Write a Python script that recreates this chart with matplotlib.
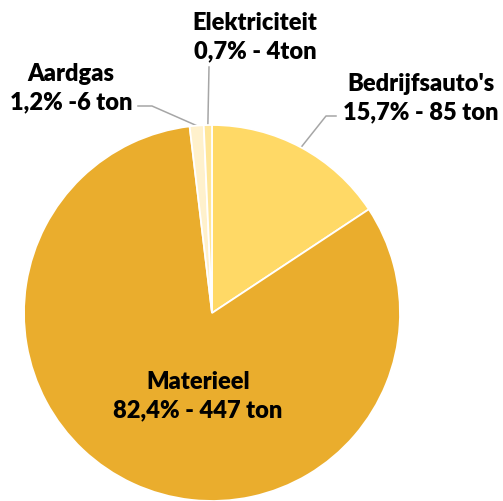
import numpy as np
import matplotlib
matplotlib.use('Agg')
import matplotlib.pyplot as plt

# data
names = ["Bedrijfsauto's", "Materieel", "Aardgas", "Elektriciteit"]
tons = [85, 447, 6, 4]
pcts = [15.7, 82.4, 1.2, 0.7]
labels = ["Bedrijfsauto's\n15,7% - 85 ton", "Materieel\n82,4% - 447 ton",
          "Aardgas\n1,2% -6 ton", "Elektriciteit\n0,7% - 4ton"]
colors = ['#FFD966', '#EAAD2D', '#FFF1CC', '#FFE699']

plt.rcParams['font.family'] = ['Lato', 'DejaVu Sans']

W, H = 503, 502
fig = plt.figure(figsize=(W / 100, H / 100), dpi=100)
cx, cy, R = 212, 314, 188
ax = fig.add_axes([(cx - R) / W, (H - cy - R) / H, 2 * R / W, 2 * R / H])

wedges, _ = ax.pie(pcts, colors=colors, startangle=90, counterclock=False,
                   wedgeprops=dict(edgecolor='white', linewidth=1.3))
ax.set_xlim(-1, 1)
ax.set_ylim(-1, 1)
ax.axis('off')

def px(x, y):
    # pixel position -> data coords
    return (x - cx) / R, (cy - y) / R

# label centres and leader lines (pixel layout)
text_pos = [(421, 98), (198, 396), (71, 88), (255, 37)]
leaders = [[(336, 117), (326, 117)], None, [(138, 107), (152, 107)], [(209, 68)]]

for i, w in enumerate(wedges):
    tx, ty = px(*text_pos[i])
    ax.text(tx, ty, labels[i], ha='center', va='center', fontsize=17,
            fontweight='heavy', linespacing=1.35, color='black')
    if leaders[i] is not None:
        ang = np.deg2rad((w.theta1 + w.theta2) / 2)
        pts = [px(*p) for p in leaders[i]] + [(np.cos(ang), np.sin(ang))]
        xs, ys = zip(*pts)
        ax.plot(xs, ys, color='#A6A6A6', lw=1.1, clip_on=False, zorder=0)

fig.savefig('out.png', dpi=100)
